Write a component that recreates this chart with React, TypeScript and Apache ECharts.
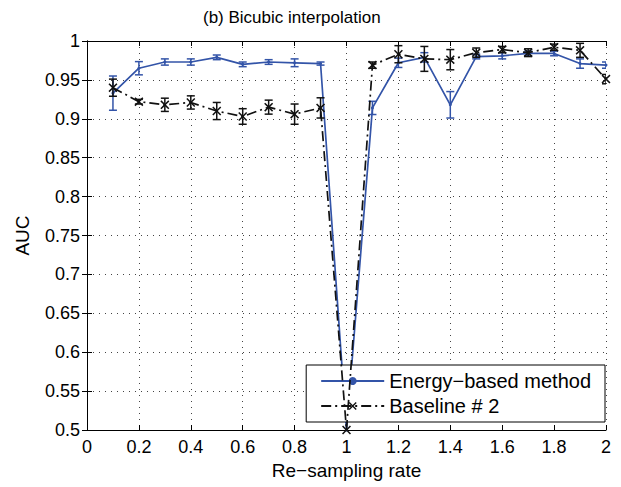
import React, { useEffect, useRef } from "react";
import * as echarts from "echarts";

const xs = [0.1, 0.2, 0.3, 0.4, 0.5, 0.6, 0.7, 0.8, 0.9, 1.0, 1.1, 1.2, 1.3, 1.4, 1.5, 1.6, 1.7, 1.8, 1.9, 2.0];
const energyMean = [0.933, 0.965, 0.973, 0.973, 0.979, 0.970, 0.973, 0.972, 0.971, 0.5, 0.914, 0.972, 0.979, 0.918, 0.980, 0.981, 0.984, 0.984, 0.971, 0.969];
const energyErr = [0.022, 0.0085, 0.004, 0.004, 0.003, 0.003, 0.003, 0.005, 0.002, 0, 0.0085, 0.006, 0.006, 0.017, 0.003, 0.004, 0.003, 0.003, 0.006, 0.004];
const baseMean = [0.940, 0.922, 0.918, 0.921, 0.910, 0.903, 0.915, 0.906, 0.914, 0.5, 0.969, 0.983, 0.977, 0.976, 0.985, 0.989, 0.985, 0.992, 0.988, 0.951];
const baseErr = [0.011, 0.003, 0.0085, 0.0085, 0.011, 0.01, 0.009, 0.013, 0.013, 0, 0.004, 0.011, 0.016, 0.013, 0.006, 0.004, 0.005, 0.004, 0.009, 0.006];

const seriesNames = ["Energy\u2212based method", "Baseline # 2"];
const titleText = "(b) Bicubic interpolation";
const xName = "Re\u2212sampling rate";
const yName = "AUC";

const BLUE = "#3354a8";
const BLACK = "#111111";
const FONT = '"Liberation Sans", Arial, Helvetica, sans-serif';
const CROSS = "path://M0,1.2L1.2,0L5,3.8L8.8,0L10,1.2L6.2,5L10,8.8L8.8,10L5,6.2L1.2,10L0,8.8L3.8,5Z";

function errorBars(mean: number[], err: number[], color: string, z: number) {
  return {
    type: "custom",
    z,
    clip: true,
    silent: true,
    encode: { x: 0, y: [1, 2] },
    data: xs.map((x, i) => [x, mean[i] - err[i], mean[i] + err[i]]).filter((d, i) => err[i] > 0),
    renderItem: (params: any, api: any) => {
      const x = api.value(0);
      const p1 = api.coord([x, api.value(1)]);
      const p2 = api.coord([x, api.value(2)]);
      const w = 4;
      const style = { stroke: color, lineWidth: 1.5, fill: "none" };
      return {
        type: "group",
        children: [
          { type: "line", shape: { x1: p1[0], y1: p1[1], x2: p2[0], y2: p2[1] }, style },
          { type: "line", shape: { x1: p1[0] - w, y1: p1[1], x2: p1[0] + w, y2: p1[1] }, style },
          { type: "line", shape: { x1: p2[0] - w, y1: p2[1], x2: p2[0] + w, y2: p2[1] }, style },
        ],
      };
    },
  };
}

export default function App() {
  const ref = useRef<HTMLDivElement>(null);
  useEffect(() => {
    if (!ref.current) return;
    const chart = echarts.init(ref.current, null, { renderer: "svg" });
    const axisCommon = {
      type: "value",
      axisLine: { show: true, lineStyle: { color: "#000", width: 1 } },
      axisTick: { show: true, inside: true, length: 5, lineStyle: { color: "#000" } },
    };
    chart.setOption({
      animation: false,
      backgroundColor: "#fff",
      title: {
        text: titleText,
        left: 198,
        top: 4,
        textStyle: { fontFamily: FONT, fontSize: 17, fontWeight: "normal", color: "#000" },
      },
      grid: { left: 87, right: 15, top: 41, bottom: 57 },
      legend: {
        orient: "vertical",
        right: 16,
        top: 365,
        data: seriesNames,
        itemWidth: 63,
        itemHeight: 10,
        itemGap: 5,
        padding: [6, 14, 6, 14],
        backgroundColor: "#fff",
        borderColor: "#000",
        borderWidth: 1,
        borderRadius: 0,
        textStyle: { fontFamily: FONT, fontSize: 20, color: "#000" },
      },
      xAxis: [
        {
          ...axisCommon,
          min: 0,
          max: 2,
          interval: 0.2,
          name: xName,
          nameLocation: "middle",
          nameGap: 26,
          nameTextStyle: { fontFamily: FONT, fontSize: 19, color: "#000" },
          axisLabel: {
            margin: 8,
            fontFamily: FONT,
            fontSize: 18,
            color: "#000",
            formatter: (v: number) => String(Number(v.toFixed(1))),
          },
          splitLine: { show: true, lineStyle: { color: "#444", type: [1, 5], width: 1 } },
        },
        {
          ...axisCommon,
          position: "top",
          min: 0,
          max: 2,
          interval: 0.2,
          axisLabel: { show: false },
          splitLine: { show: false },
        },
      ],
      yAxis: [
        {
          ...axisCommon,
          min: 0.5,
          max: 1,
          interval: 0.05,
          name: yName,
          nameLocation: "middle",
          nameGap: 55,
          nameTextStyle: { fontFamily: FONT, fontSize: 19, color: "#000" },
          axisLabel: {
            margin: 7,
            fontFamily: FONT,
            fontSize: 18,
            color: "#000",
            formatter: (v: number) => String(Number(v.toFixed(2))),
          },
          splitLine: { show: true, lineStyle: { color: "#444", type: [1, 5], width: 1 } },
        },
        {
          ...axisCommon,
          position: "right",
          min: 0.5,
          max: 1,
          interval: 0.05,
          axisLabel: { show: false },
          splitLine: { show: false },
        },
      ],
      series: [
        {
          name: seriesNames[0],
          type: "line",
          z: 3,
          data: xs.map((x, i) => [x, energyMean[i]]),
          symbol: "circle",
          symbolSize: 3,
          lineStyle: { color: BLUE, width: 1.7 },
          itemStyle: { color: BLUE },
        },
        errorBars(energyMean, energyErr, BLUE, 4),
        {
          name: seriesNames[1],
          type: "line",
          z: 5,
          data: xs.map((x, i) => [x, baseMean[i]]),
          symbol: CROSS,
          symbolSize: 9,
          lineStyle: { color: BLACK, width: 1.7, type: [10, 4, 2, 4] },
          itemStyle: { color: BLACK },
        },
        errorBars(baseMean, baseErr, BLACK, 6),
      ],
    });
    return () => chart.dispose();
  }, []);
  return <div ref={ref} style={{ width: 621, height: 487, position: "absolute", left: 0, top: 0 }} />;
}
